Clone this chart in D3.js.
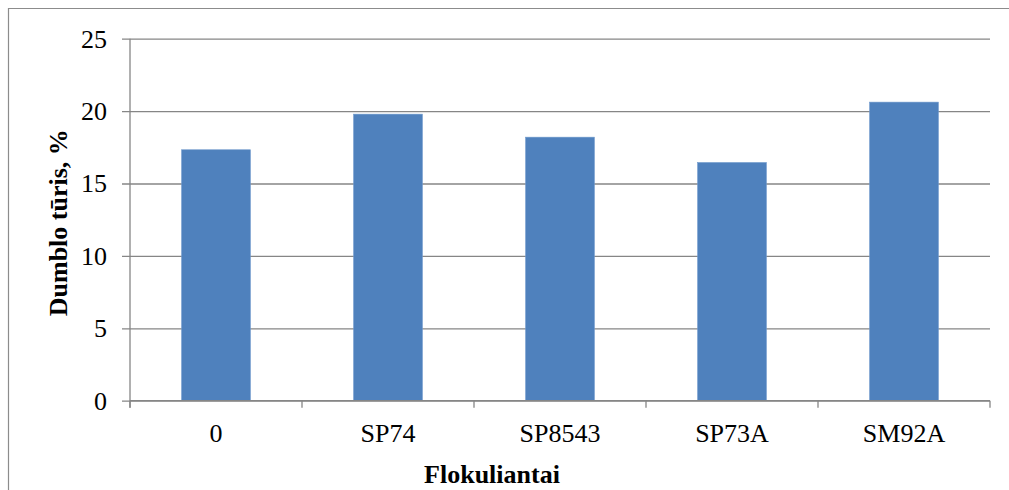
<!DOCTYPE html>
<html>
<head>
<meta charset="utf-8">
<script src="https://cdn.jsdelivr.net/npm/d3@7"></script>
<style>
  html, body { margin: 0; padding: 0; background: #fff; }
  svg { display: block; }
</style>
</head>
<body>
<svg id="chart" width="1009" height="490"></svg>
<script>
// Flocculant type vs. algae volume
const categories = ["0", "SP74", "SP8543", "SP73A", "SM92A"];
const values = [17.33, 19.79, 18.2, 16.45, 20.62];
const yTicks = [0, 5, 10, 15, 20, 25];
const yTitle = "Dumblo tūris, %";
const xTitle = "Flokuliantai";

const svg = d3.select("#chart");
const W = 1009, H = 490;
const m = { left: 130, right: 1009 - 990, top: 38.7, bottom: 490 - 400.7 };

const gridColor = "#868686";
const font = "'Liberation Serif', 'Times New Roman', serif";
const fs = 26;

// outer chart frame (extends past the right and bottom edges)
svg.append("path")
  .attr("d", `M8.5,${H + 5} V8.5 H${W + 5}`)
  .attr("fill", "none")
  .attr("stroke", "#8c8c8c")
  .attr("stroke-width", 1.2);

const x = d3.scaleBand().domain(categories).range([m.left, W - m.right]).padding(0);
const y = d3.scaleLinear().domain([0, 25]).range([H - m.bottom, m.top]);

// horizontal gridlines with left tick marks
const yAxis = d3.axisLeft(y)
  .tickValues(yTicks)
  .tickSize(-(W - m.right - m.left))
  .tickSizeOuter(0)
  .tickPadding(15);

const gy = svg.append("g").attr("transform", `translate(${m.left},0)`).call(yAxis);
gy.select(".domain").remove();
gy.selectAll(".tick line")
  .attr("stroke", gridColor)
  .attr("stroke-width", 1.3)
  .attr("x1", -8);
gy.selectAll(".tick text")
  .attr("font-family", font)
  .attr("font-size", fs)
  .attr("fill", "#000")
  .attr("x", -23);

// bars: 40% of each category slot, centred
const barFrac = 0.4;
svg.append("g").selectAll("rect")
  .data(values)
  .join("rect")
  .attr("x", (d, i) => x(categories[i]) + x.bandwidth() * (1 - barFrac) / 2)
  .attr("width", x.bandwidth() * barFrac)
  .attr("y", d => y(d))
  .attr("height", d => y(0) - y(d))
  .attr("fill", "#4F81BD")
  .attr("stroke", "#6f99cc")
  .attr("stroke-width", 0.6);

// vertical axis line
svg.append("line")
  .attr("x1", m.left).attr("x2", m.left)
  .attr("y1", y(25)).attr("y2", y(0) + 7)
  .attr("stroke", gridColor).attr("stroke-width", 1.3);

// category axis with boundary ticks
const gx = svg.append("g").attr("transform", `translate(0,${y(0)})`);
gx.append("line")
  .attr("x1", m.left).attr("x2", W - m.right)
  .attr("stroke", gridColor).attr("stroke-width", 1.3);
const bounds = categories.map(c => x(c)).concat([x(categories[categories.length - 1]) + x.bandwidth()]);
gx.selectAll("line.tk")
  .data(bounds)
  .join("line")
  .attr("class", "tk")
  .attr("x1", d => d).attr("x2", d => d)
  .attr("y1", 0).attr("y2", 7)
  .attr("stroke", gridColor).attr("stroke-width", 1.3);
gx.selectAll("text")
  .data(categories)
  .join("text")
  .attr("x", d => x(d) + x.bandwidth() / 2)
  .attr("y", 41)
  .attr("text-anchor", "middle")
  .attr("font-family", font)
  .attr("font-size", fs)
  .attr("fill", "#000")
  .text(d => d);

// axis titles
svg.append("text")
  .attr("transform", `translate(67,${(y(0) + y(25)) / 2 + 3}) rotate(-90)`)
  .attr("text-anchor", "middle")
  .attr("font-family", font)
  .attr("font-weight", "bold")
  .attr("font-size", fs)
  .attr("fill", "#000")
  .text(yTitle);

svg.append("text")
  .attr("x", 492)
  .attr("y", 483)
  .attr("text-anchor", "middle")
  .attr("font-family", font)
  .attr("font-weight", "bold")
  .attr("font-size", fs)
  .attr("fill", "#000")
  .text(xTitle);
</script>
</body>
</html>
